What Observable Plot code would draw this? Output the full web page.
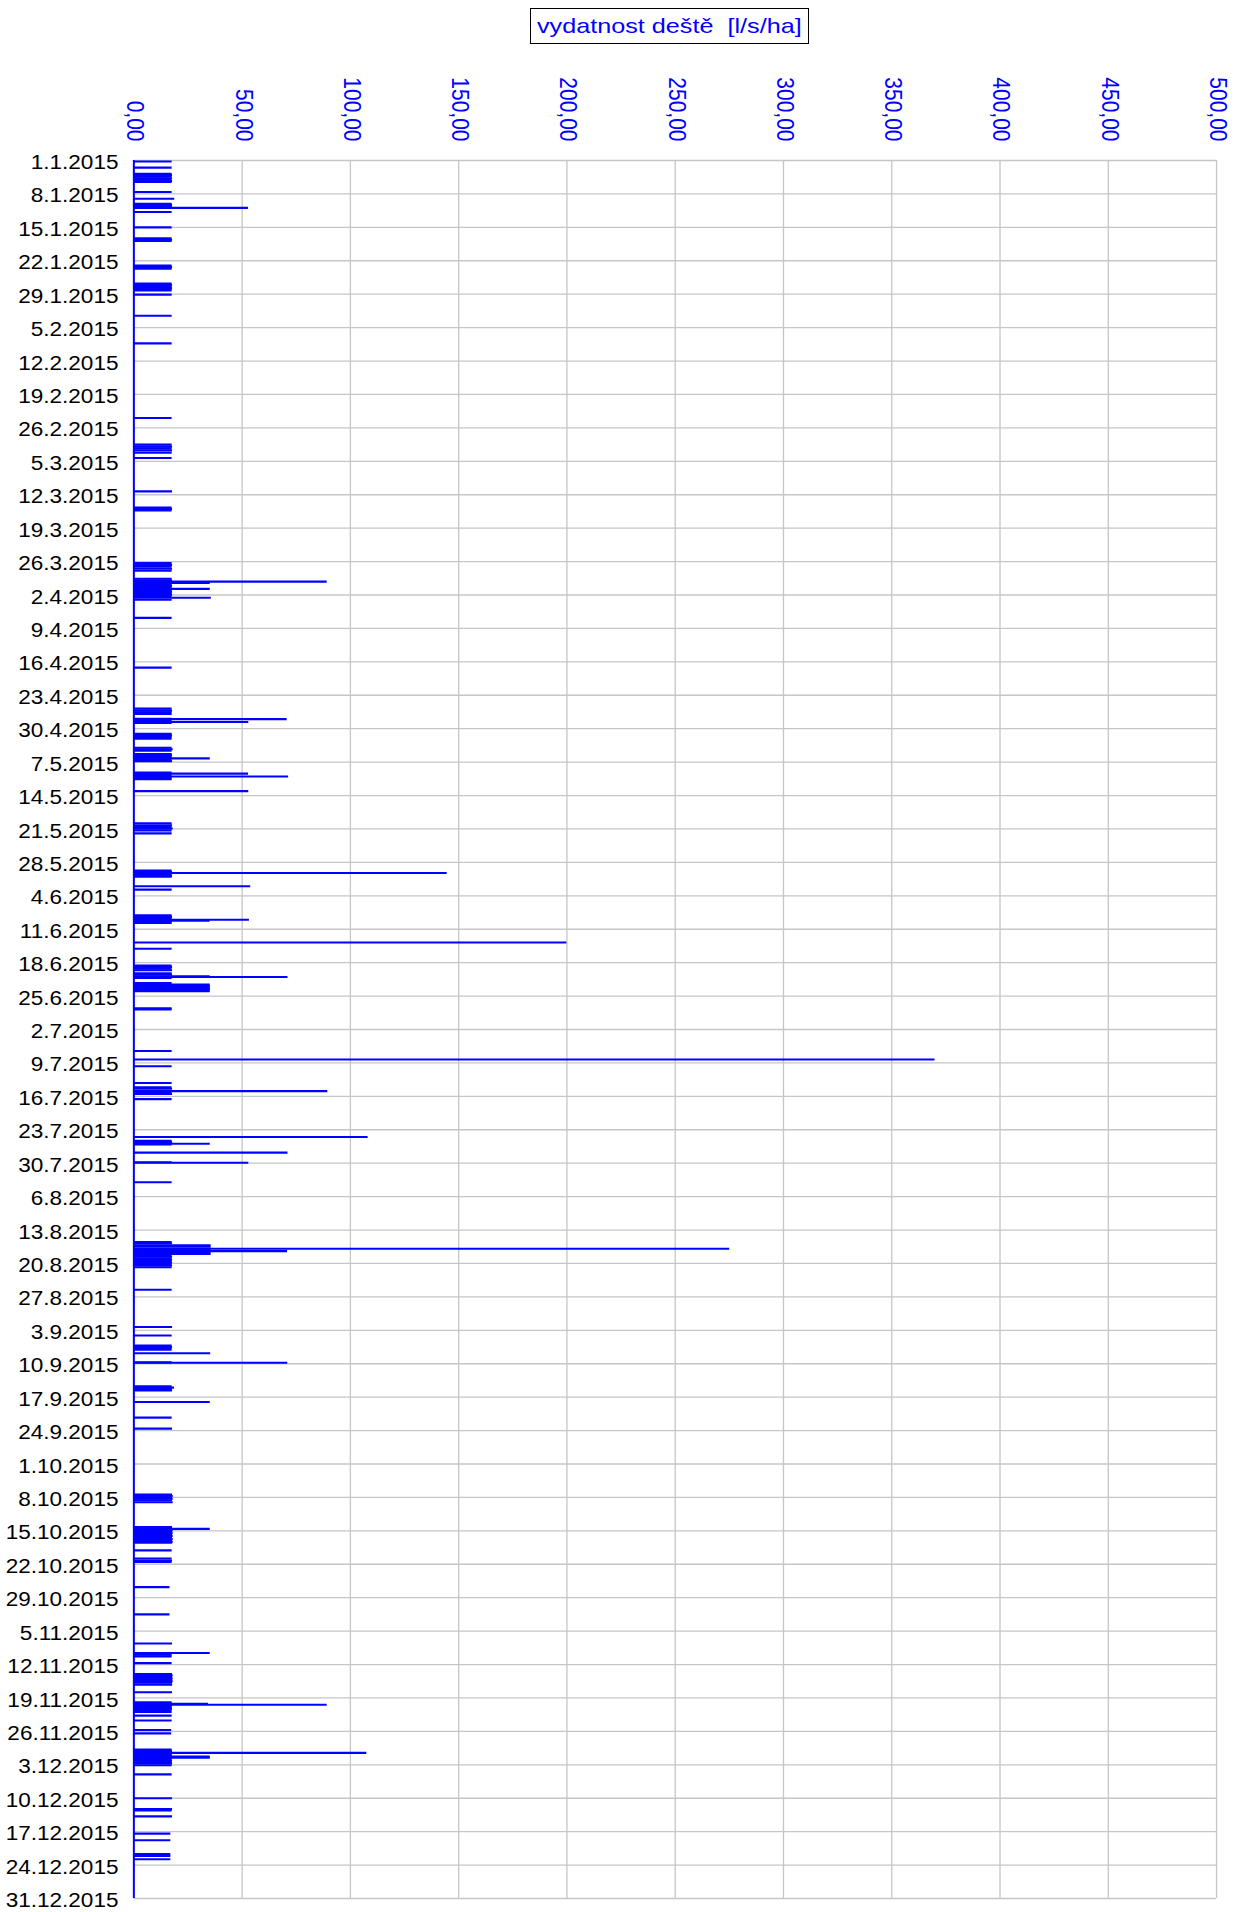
<!DOCTYPE html>
<html>
<head>
<meta charset="utf-8">
<script src="https://cdn.jsdelivr.net/npm/d3@7"></script>
<script src="https://cdn.jsdelivr.net/npm/@observablehq/plot@0.6"></script>
<style>
  body { margin: 0; background: white; font-family: "Liberation Sans", Arial, sans-serif; }
  #title-row { position: relative; height: 50px; width: 1236px; }
  #title {
    position: absolute; left: 530px; top: 8px; width: 277px; height: 34px;
    border: 1.5px solid black; text-align: center; line-height: 34px;
    color: #0000ff; font-size: 21px; white-space: pre; overflow: visible;
  }
  #title span { display: inline-block; transform: scaleX(1.2); transform-origin: 50% 50%; }
</style>
</head>
<body>
<div id="title-row"><div id="title"><span>vydatnost deště  [l/s/ha]</span></div></div>
<div id="chart"></div>
<script>
// ---- data: [time (MM-DD HH, 2015, UTC), rain intensity l/s/ha] ----
const rainQ1 = [
  ["01-01 05",17.7],
  ["01-02 12",17.7],
  ["01-03 19",17.7],["01-04 02",17.9],["01-04 10",17.7],["01-04 17",17.9],["01-05 00",17.7],["01-05 07",17.9],["01-05 12",17.7],
  ["01-07 14",17.7],
  ["01-09 00",18.9],
  ["01-10 02",17.7],["01-10 08",17.9],["01-10 14",17.7],["01-10 19",17.9],["01-10 22",53.0],
  ["01-11 19",17.7],
  ["01-15 00",17.7],
  ["01-17 07",17.7],["01-17 14",17.9],["01-17 21",17.7],
  ["01-23 00",17.7],["01-23 08",17.9],["01-23 16",17.7],
  ["01-26 19",17.7],["01-27 02",17.9],["01-27 09",17.7],["01-27 16",17.9],["01-27 23",17.7],["01-28 05",17.7],
  ["01-29 02",17.7],
  ["02-02 12",17.7],
  ["02-08 07",17.7],
  ["02-23 22",17.7],
  ["03-01 12",17.7],["03-01 22",17.9],["03-02 07",17.7],["03-02 17",17.9],["03-03 05",17.7],
  ["03-04 07",17.7],
  ["03-11 07",17.9],
  ["03-14 17",17.7],["03-15 00",17.9],["03-15 07",17.7],
  ["03-26 07",17.7],["03-26 17",17.9],["03-27 02",17.7],["03-27 12",17.9],["03-27 22",17.7],
  ["03-29 14",17.7],["03-29 22",17.9],["03-30 05",89.3],["03-30 12",35.3],["03-30 19",17.7],["03-31 02",17.9],["03-31 10",17.7],["03-31 17",35.3]
];
const rainQ2 = [
  ["04-01 00",17.7],["04-01 07",17.9],["04-01 14",17.7],["04-01 22",17.9],["04-02 05",17.7],["04-02 14",35.8],["04-03 00",17.7],
  ["04-06 19",17.7],
  ["04-17 05",17.7],
  ["04-25 19",17.7],["04-26 05",17.9],["04-26 14",17.7],["04-26 22",17.7],
  ["04-27 22",17.7],["04-28 00",70.8],["04-28 07",17.7],["04-28 14",53.1],["04-28 19",17.7],
  ["05-01 02",17.7],["05-01 10",17.9],["05-01 17",17.7],["05-02 02",17.7],
  ["05-04 00",17.7],["05-04 07",18.2],["05-04 14",17.7],
  ["05-05 07",17.7],["05-05 14",17.9],["05-05 22",17.7],["05-06 05",35.3],["05-06 12",17.7],["05-06 19",17.9],
  ["05-09 05",17.7],["05-09 10",53.0],["05-09 17",17.7],["05-10 00",71.5],["05-10 07",17.7],["05-10 14",17.7],
  ["05-13 02",53.1],
  ["05-19 19",17.7],["05-20 05",17.9],["05-20 14",17.7],["05-20 22",18.2],["05-21 07",17.7],["05-21 22",17.7],
  ["05-29 17",17.7],["05-30 00",17.9],["05-30 05",144.7],["05-30 12",17.7],["05-30 19",17.9],["05-31 00",17.7],
  ["06-02 00",54.0],
  ["06-02 17",17.7],
  ["06-08 02",17.7],["06-08 10",17.9],["06-08 17",17.7],["06-09 00",53.4],["06-09 05",35.2],["06-09 12",17.7],["06-09 17",17.7],
  ["06-13 19",200.0],
  ["06-15 02",17.7],
  ["06-18 14",17.7],["06-18 22",17.9],["06-19 07",17.7],["06-19 14",17.9],
  ["06-20 05",17.7],["06-20 12",17.9],["06-20 20",35.3],["06-21 00",71.2],["06-21 05",17.7],
  ["06-22 07",17.7],["06-22 14",35.3],["06-22 22",35.4],["06-23 05",35.3],["06-23 12",35.4],["06-23 19",35.3],["06-24 00",35.3],
  ["06-27 14",17.7],["06-27 19",17.7]
];
const rainQ3 = [
  ["07-06 12",17.7],
  ["07-08 07",370.0],
  ["07-09 17",17.7],
  ["07-13 05",17.7],
  ["07-14 02",17.7],["07-14 10",17.9],["07-14 22",89.6],["07-15 05",17.7],["07-15 12",17.9],
  ["07-16 14",17.7],
  ["07-24 12",108.2],
  ["07-25 07",17.7],["07-25 14",17.9],["07-25 22",35.3],["07-26 02",17.7],
  ["07-27 19",71.2],
  ["07-29 19",17.7],["07-29 22",53.1],
  ["08-03 00",17.7],
  ["08-15 12",17.7],["08-15 19",17.9],["08-16 05",35.7],["08-16 12",35.7],["08-16 22",275.2],["08-17 05",35.7],["08-17 10",71.0],["08-17 17",35.7],["08-18 00",35.7],["08-18 07",17.7],["08-18 14",17.9],["08-18 22",17.7],["08-19 05",17.9],["08-19 12",17.7],["08-19 19",17.9],["08-20 02",17.7],["08-20 10",17.9],["08-20 19",17.7],
  ["08-25 12",17.7],
  ["09-02 07",17.9],
  ["09-04 02",17.7],
  ["09-06 05",17.7],["09-06 12",17.9],["09-06 19",17.7],["09-07 02",17.7],
  ["09-07 19",35.5],
  ["09-09 17",17.7],["09-09 19",71.1],
  ["09-14 17",17.7],["09-15 00",18.8],["09-15 07",17.7],["09-15 14",17.9],
  ["09-18 00",35.3],
  ["09-21 07",17.7],
  ["09-23 14",17.9]
];
const rainQ4 = [
  ["10-07 10",17.9],["10-07 17",18.2],["10-08 00",17.9],["10-08 07",18.2],["10-08 14",17.9],["10-09 00",18.2],
  ["10-14 05",17.9],["10-14 14",35.3],["10-14 22",18.2],["10-15 05",17.9],["10-15 12",18.2],["10-15 19",17.9],["10-16 02",18.2],["10-16 10",17.9],["10-16 17",18.2],["10-17 00",17.9],["10-17 07",18.2],["10-17 12",17.9],
  ["10-19 02",17.7],
  ["10-20 19",17.7],["10-21 05",17.9],["10-21 12",17.7],
  ["10-26 19",16.7],
  ["11-01 12",16.7],
  ["11-07 14",17.9],
  ["11-09 14",35.3],["11-09 22",17.7],["11-10 07",17.7],
  ["11-11 17",17.7],
  ["11-14 00",17.9],["11-14 07",18.2],["11-14 14",17.9],["11-14 22",18.2],["11-15 05",17.9],["11-15 12",18.2],["11-15 19",17.9],["11-16 05",17.9],
  ["11-17 19",17.9],
  ["11-19 22",17.7],["11-20 05",34.5],["11-20 10",89.3],["11-20 14",17.9],["11-20 22",17.7],["11-21 05",17.9],["11-21 12",17.7],["11-21 22",17.7],
  ["11-22 17",17.7],
  ["11-23 17",17.7],
  ["11-25 17",17.5],
  ["11-26 10",17.5],
  ["11-29 19",17.7],["11-30 02",17.9],["11-30 12",107.6],["11-30 19",17.7],["12-01 02",17.9],["12-01 07",35.3],["12-01 12",35.3],["12-01 19",17.7],["12-02 02",17.9],["12-02 10",17.7],["12-02 17",17.9],["12-03 02",17.7],
  ["12-05 00",17.7],
  ["12-10 00",17.9],
  ["12-12 07",17.9],["12-12 14",17.7],
  ["12-13 19",17.9],
  ["12-17 10",17.1],
  ["12-18 19",17.1],
  ["12-21 17",17.1],["12-22 02",17.1],
  ["12-22 19",17.1]
];
const xTicks = [0, 50, 100, 150, 200, 250, 300, 350, 400, 450, 500];
const xTickLabels = ["0,00","50,00","100,00","150,00","200,00","250,00","300,00","350,00","400,00","450,00","500,00"];
const yTickLabels = [
  "1.1.2015","8.1.2015","15.1.2015","22.1.2015","29.1.2015","5.2.2015","12.2.2015","19.2.2015","26.2.2015",
  "5.3.2015","12.3.2015","19.3.2015","26.3.2015","2.4.2015","9.4.2015","16.4.2015","23.4.2015","30.4.2015",
  "7.5.2015","14.5.2015","21.5.2015","28.5.2015","4.6.2015","11.6.2015","18.6.2015","25.6.2015","2.7.2015",
  "9.7.2015","16.7.2015","23.7.2015","30.7.2015","6.8.2015","13.8.2015","20.8.2015","27.8.2015","3.9.2015",
  "10.9.2015","17.9.2015","24.9.2015","1.10.2015","8.10.2015","15.10.2015","22.10.2015","29.10.2015","5.11.2015",
  "12.11.2015","19.11.2015","26.11.2015","3.12.2015","10.12.2015","17.12.2015","24.12.2015","31.12.2015"
];

// ---- build tables ----
const parseT = s => new Date(`2015-${s.slice(0,5)}T${s.slice(6)}:00Z`);
const parseLabel = s => { const [d, m, y] = s.split(".").map(Number); return new Date(Date.UTC(y, m - 1, d)); };
const rain = [...rainQ1, ...rainQ2, ...rainQ3, ...rainQ4].map(([t, v]) => ({t: parseT(t), v}));
const yTicks = yTickLabels.map(l => ({date: parseLabel(l), label: l}));
const xTickData = xTicks.map((v, i) => ({v, label: xTickLabels[i]}));

const S = 1.1;              // horizontal stretch of the original rendering
const W = 1236 / S;
const H = 1862;
const FONT = "'Liberation Sans', Arial, Helvetica, sans-serif";
const BLUE = "#0000ff";

const chart = Plot.plot({
  width: W,
  height: H,
  marginLeft: 133.3 / S,
  marginRight: W - 1216 / S,
  marginTop: 110,
  marginBottom: 14,
  style: {fontFamily: FONT, background: "white", overflow: "visible"},
  x: {domain: [0, 500], axis: null},
  y: {type: "utc", domain: [yTicks[0].date, yTicks[yTicks.length - 1].date], reverse: true, axis: null},
  marks: [
    Plot.gridY(yTicks.map(d => d.date), {stroke: "#c6c6c6", strokeOpacity: 1, strokeWidth: 1.3}),
    Plot.gridX(xTicks, {stroke: "#c6c6c6", strokeOpacity: 1, strokeWidth: 1.2}),
    Plot.ruleY(rain, {y: "t", x1: 0, x2: "v", stroke: BLUE, strokeWidth: 2.1}),
    Plot.ruleX([0], {stroke: BLUE, strokeWidth: 1.8}),
    Plot.text(yTicks, {
      y: "date", text: "label", frameAnchor: "left", dx: -14, dy: 2,
      textAnchor: "end", fill: "black", fontSize: 20.5, fontFamily: FONT
    }),
    Plot.text(xTickData, {
      x: "v", text: "label", frameAnchor: "top", dx: 9, dy: -19, rotate: 90,
      textAnchor: "end", fill: BLUE, fontSize: 21, fontFamily: FONT
    })
  ]
});

chart.setAttribute("preserveAspectRatio", "none");
chart.setAttribute("width", 1236);
chart.setAttribute("height", H);
chart.style.width = "1236px";
chart.style.height = H + "px";
chart.style.maxWidth = "none";
chart.style.display = "block";
document.getElementById("chart").appendChild(chart);
</script>
</body>
</html>
